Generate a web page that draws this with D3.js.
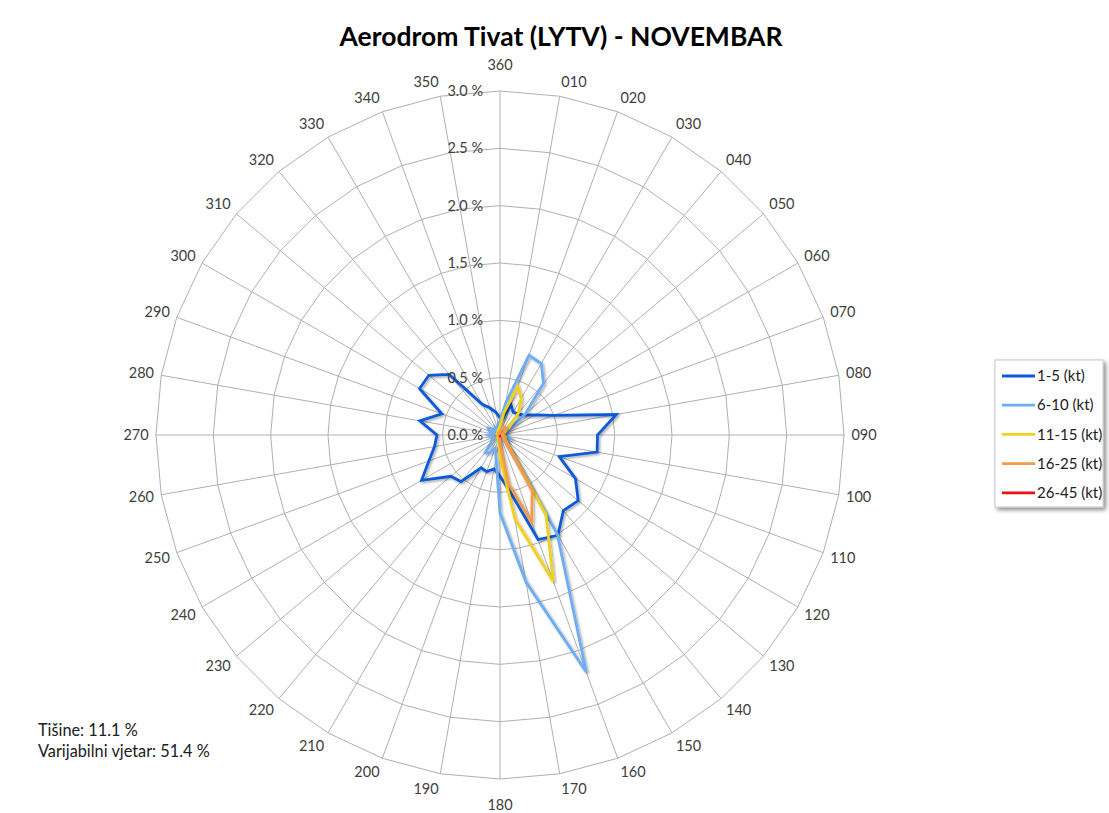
<!DOCTYPE html>
<html>
<head>
<meta charset="utf-8">
<script src="https://cdn.jsdelivr.net/npm/d3@7"></script>
<style>
  html, body { margin: 0; padding: 0; background: #fff; }
  svg { display: block; font-family: Lato, "Open Sans", sans-serif; }
</style>
</head>
<body>
<svg id="chart" width="1109" height="813"></svg>
<script>
// ---- DATA ----
const directions = ["360","010","020","030","040","050","060","070","080","090","100","110",
                    "120","130","140","150","160","170","180","190","200","210","220","230",
                    "240","250","260","270","280","290","300","310","320","330","340","350"];
const seriesNames = ["1-5 (kt)", "6-10 (kt)", "11-15 (kt)", "16-25 (kt)", "26-45 (kt)"];
const s1_5 = [0.15,0.15,0.28,0.23,0.24,0.27,0.35,0.50,1.03,0.85,0.86,0.55,
              0.76,0.89,0.86,1.01,0.97,0.50,0.36,0.30,0.34,0.33,0.53,0.56,
              0.79,0.66,0.58,0.55,0.71,0.54,0.81,0.81,0.69,0.31,0.25,0.20];
const s6_10 = [0.12,0.28,0.74,0.72,0.59,0.29,0.10,0.06,0.05,0.06,0.07,0.10,
               0.06,0.08,0.10,1.00,2.20,1.30,0.68,0.20,0.12,0.18,0.20,0.10,
               0.08,0.06,0.07,0.10,0.06,0.10,0.12,0.08,0.05,0.08,0.06,0.10];
const s11_15 = [0.08,0.20,0.45,0.37,0.25,0.10,0.05,0.03,0.03,0.03,0.04,0.05,
                0.05,0.06,0.10,0.80,1.36,0.74,0.19,0.06,0.04,0.03,0.03,0.02,
                0.02,0.02,0.02,0.02,0.02,0.02,0.03,0.03,0.03,0.04,0.05,0.05];
const s16_25 = [0.03,0.04,0.07,0.08,0.08,0.06,0.04,0.02,0.02,0.02,0.02,0.03,
                0.03,0.04,0.08,0.56,0.81,0.43,0.08,0.02,0.02,0.01,0.01,0.01,
                0.01,0.01,0.01,0.01,0.01,0.01,0.01,0.01,0.01,0.02,0.02,0.02];
const s26_45 = [0,0,0,0,0,0,0,0,0,0,0,0,
                0,0,0,0.01,0.02,0.01,0,0,0,0,0,0,
                0,0,0,0,0,0,0,0,0,0,0,0];
const seriesValues = [s1_5, s6_10, s11_15, s16_25, s26_45];
const seriesColors = ["#0b5ad9", "#6cadf5", "#f0d21e", "#f7994a", "#f01010"];
const ringTicks = [0, 0.5, 1.0, 1.5, 2.0, 2.5, 3.0];
const titleText = "Aerodrom Tivat (LYTV) - NOVEMBAR";
const notes = ["Tišine: 11.1 %", "Varijabilni vjetar: 51.4 %"];

// ---- LAYOUT ----
const svg = d3.select("#chart");
const cx = 500, cy = 435, R = 344;
const rScale = d3.scaleLinear().domain([0, 3]).range([0, R]);
const angle = d3.scaleLinear().domain([0, directions.length]).range([0, 2 * Math.PI]);

const defs = svg.append("defs");
const f = defs.append("filter").attr("id", "shadow").attr("x", "-20%").attr("y", "-20%").attr("width", "140%").attr("height", "140%");
f.append("feDropShadow").attr("dx", 1.5).attr("dy", 1.5).attr("stdDeviation", 1.2)
  .attr("flood-color", "#000").attr("flood-opacity", 0.35);
const f2 = defs.append("filter").attr("id", "boxshadow").attr("x", "-20%").attr("y", "-20%").attr("width", "140%").attr("height", "140%");
f2.append("feDropShadow").attr("dx", 2.5).attr("dy", 2.5).attr("stdDeviation", 2)
  .attr("flood-color", "#000").attr("flood-opacity", 0.45);

// title
svg.append("text").attr("x", 561).attr("y", 46).attr("text-anchor", "middle")
  .attr("font-size", 26.5).attr("font-weight", "bold").attr("fill", "#000").text(titleText);

const g = svg.append("g").attr("transform", `translate(${cx},${cy})`);

// grid rings (polygons)
const ringLine = d3.lineRadial().angle((d, i) => angle(i)).curve(d3.curveLinearClosed);
ringTicks.filter(t => t > 0).forEach(t => {
  g.append("path").attr("d", ringLine.radius(rScale(t))(directions))
    .attr("fill", "none").attr("stroke", "#b0b0b0").attr("stroke-width", 1);
});
// spokes
g.selectAll("line.spoke").data(directions).enter().append("line")
  .attr("x1", 0).attr("y1", 0)
  .attr("x2", (d, i) => R * Math.sin(angle(i)))
  .attr("y2", (d, i) => -R * Math.cos(angle(i)))
  .attr("stroke", "#b0b0b0").attr("stroke-width", 1);

// direction labels: box-anchored outside the outer ring
function labelPos(i) {
  const a = angle(i), ux = Math.sin(a), uy = -Math.cos(a);
  const sx = Math.abs(ux) < 0.01 ? 0 : Math.sign(ux);
  let ox = ux * 7 + sx * 13, oy = uy * 15;
  if (sx === 0) oy += Math.sign(uy) * 11;
  return [R * ux + ox, R * uy + oy];
}
g.selectAll("text.dir").data(directions).enter().append("text")
  .attr("x", (d, i) => labelPos(i)[0])
  .attr("y", (d, i) => labelPos(i)[1])
  .attr("dy", "0.35em").attr("text-anchor", "middle")
  .attr("font-size", 14.5).attr("fill", "#404040").text(d => d);

// series
const valLine = d3.lineRadial().angle((d, i) => angle(i)).radius(d => rScale(d)).curve(d3.curveLinearClosed);
seriesValues.forEach((vals, k) => {
  g.append("path").attr("d", valLine(vals)).attr("fill", "none")
    .attr("stroke", seriesColors[k]).attr("stroke-width", 2.8)
    .attr("stroke-linejoin", "miter").attr("filter", "url(#shadow)");
});

// ring value labels
g.selectAll("text.ring").data(ringTicks).enter().append("text")
  .attr("x", -17).attr("y", d => -rScale(d))
  .attr("dy", "0.35em").attr("text-anchor", "end")
  .attr("font-size", 14.5).attr("fill", "#404040")
  .text(d => d3.format(".1f")(d) + " %");

// notes
svg.selectAll("text.note").data(notes).enter().append("text")
  .attr("x", 38).attr("y", (d, i) => 736 + i * 20.5)
  .attr("font-size", 16.3).attr("fill", "#202020").text(d => d);

// legend
const lg = svg.append("g").attr("transform", "translate(995,360)");
lg.append("rect").attr("width", 108).attr("height", 147).attr("fill", "#fff")
  .attr("stroke", "#c8c8c8").attr("stroke-width", 1).attr("filter", "url(#boxshadow)");
seriesNames.forEach((name, k) => {
  const y = 16 + k * 29.2;
  lg.append("line").attr("x1", 7).attr("x2", 40).attr("y1", y).attr("y2", y)
    .attr("stroke", seriesColors[k]).attr("stroke-width", 2.8);
  lg.append("text").attr("x", 42).attr("y", y).attr("dy", "0.35em")
    .attr("font-size", 15).attr("fill", "#202020").text(name);
});
</script>
</body>
</html>
